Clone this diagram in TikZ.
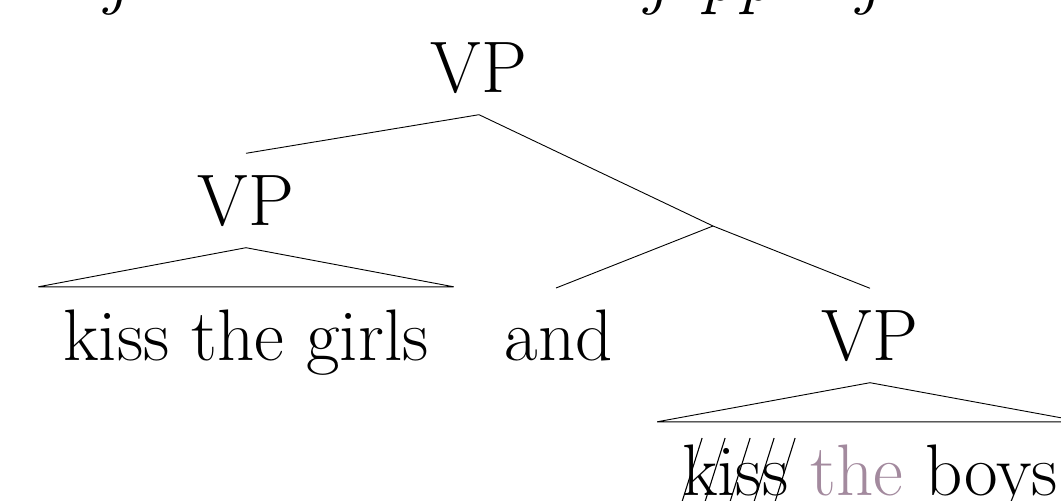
\documentclass[tikz,border=0pt]{standalone}
\definecolor{mauve}{RGB}{163,138,158}
\begin{document}
\begin{tikzpicture}[x=1pt,y=-1pt,
  every node/.style={font=\fontsize{73}{84}\selectfont},
  cat/.style={inner xsep=0pt, inner ysep=22.5pt, text height=49pt, text depth=0pt, anchor=base},
  word/.style={inner xsep=25pt, inner ysep=24pt, text height=49pt, text depth=0pt, anchor=base},
  edge/.style={line width=0.9pt},
  strike/.style={line width=1.1pt},
  above line/.style={inner sep=0pt, font=\fontsize{73}{84}\selectfont\itshape}]
\useasboundingbox (0,0) rectangle (1061,501);
\clip (0,0) rectangle (1061,501);

% tail of the line of text above the tree
\node[above line, anchor=base] (j1) at (116,0) {j};
\node[above line, anchor=base] (j2) at (656,0) {j};
\node[above line, anchor=base] (p1) at (719,0) {p};
\node[above line, anchor=base] (p2) at (757,0) {p};
\node[above line, anchor=base] (j3) at (868,0) {j};

% categories
\node[cat] (vp0) at (479,92) {VP};
\node[cat] (vp1) at (246,225) {VP};
\node[cat] (vp2) at (870,360) {VP};
\coordinate (mid) at (713,226);

% terminals
\node[word] (girls) at (246,360) {kiss the girls};
\node[inner sep=0pt, anchor=base] (and) at (559,360) {and};
\coordinate (andtop) at (556,288);
\node[word] (boys) at (870,495) {kiss \textcolor{mauve}{the} boys};

% deleted copy of the verb: a row of slashes through "kiss"
\coordinate (kiss) at ([xshift=25pt]boys.base west);
\foreach \dx in {-3,20,45,69,90}
  \draw[strike] ([xshift=\dx pt, yshift=-16pt]kiss) -- ([xshift=\dx pt+23pt, yshift=57pt]kiss);

% branches
\draw[edge] (vp0.south) -- (vp1.north);
\draw[edge] (vp0.south) -- (mid);
\draw[edge] (mid) -- (andtop);
\draw[edge] (mid) -- (vp2.north);

% roofs
\draw[edge] (vp1.south) -- (girls.north west) -- (girls.north east) -- cycle;
\draw[edge] (vp2.south) -- (boys.north west) -- (boys.north east) -- cycle;
\end{tikzpicture}
\end{document}
